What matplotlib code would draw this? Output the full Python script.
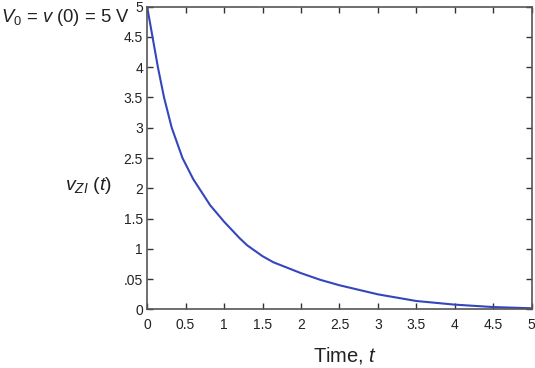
import matplotlib
matplotlib.use("Agg")
import matplotlib.pyplot as plt

# curve values
t_vals = [0, 0.07, 0.14, 0.22, 0.32, 0.46, 0.60, 0.82, 1.0, 1.2, 1.3, 1.5,
          1.64, 2.0, 2.25, 2.5, 3.0, 3.5, 4.0, 4.5, 5.0]
v_vals = [5.0, 4.5, 4.0, 3.5, 3.0, 2.5, 2.15, 1.72, 1.45, 1.18, 1.06, 0.88,
          0.78, 0.6, 0.49, 0.40, 0.25, 0.14, 0.08, 0.04, 0.02]

x_ticks = [0, 0.5, 1, 1.5, 2, 2.5, 3, 3.5, 4, 4.5, 5]
x_ticklabels = ["0", "0.5", "1", "1.5", "2", "2.5", "3", "3.5", "4", "4.5", "5"]
y_ticks = [0, 0.5, 1, 1.5, 2, 2.5, 3, 3.5, 4, 4.5, 5]
y_ticklabels = ["0", ".05", "1", "1.5", "2", "2.5", "3", "3.5", "4", "4.5", "5"]

plt.rcParams["font.family"] = ["Liberation Sans", "DejaVu Sans"]
plt.rcParams["mathtext.fontset"] = "custom"
plt.rcParams["mathtext.rm"] = "Liberation Sans"
plt.rcParams["mathtext.it"] = "Liberation Sans:italic"

fig = plt.figure(figsize=(5.35, 3.68), dpi=100)
ax = fig.add_axes([0.275, 0.159, 0.719, 0.823])

ax.plot(t_vals, v_vals, color="#3446bd", lw=1.5)

ax.set_xlim(0, 5)
ax.set_ylim(0, 5)
ax.set_xticks(x_ticks)
ax.set_xticklabels(x_ticklabels)
ax.set_yticks(y_ticks)
ax.set_yticklabels(y_ticklabels)

for s in ax.spines.values():
    s.set_color("#555555")
    s.set_linewidth(1.2)
ax.tick_params(direction="in", length=4, width=1, color="#333333",
               top=True, right=True, labelsize=10, labelcolor="#222222")
ax.tick_params(axis="x", pad=6)
ax.tick_params(axis="y", pad=3)

fig.text(0.001, 0.952, r"$V_{\mathit{0}}$ = $v$ (0) = 5 V", fontsize=13.3,
         color="#222222", ha="left", va="center")
fig.text(0.165, 0.497, r"$v_{ZI}$ $(t)$", fontsize=14, color="#222222",
         ha="center", va="center")
fig.text(0.645, 0.035, r"Time, $t$", fontsize=14.5, color="#222222",
         ha="center", va="center")

fig.savefig("out.png", dpi=100)
